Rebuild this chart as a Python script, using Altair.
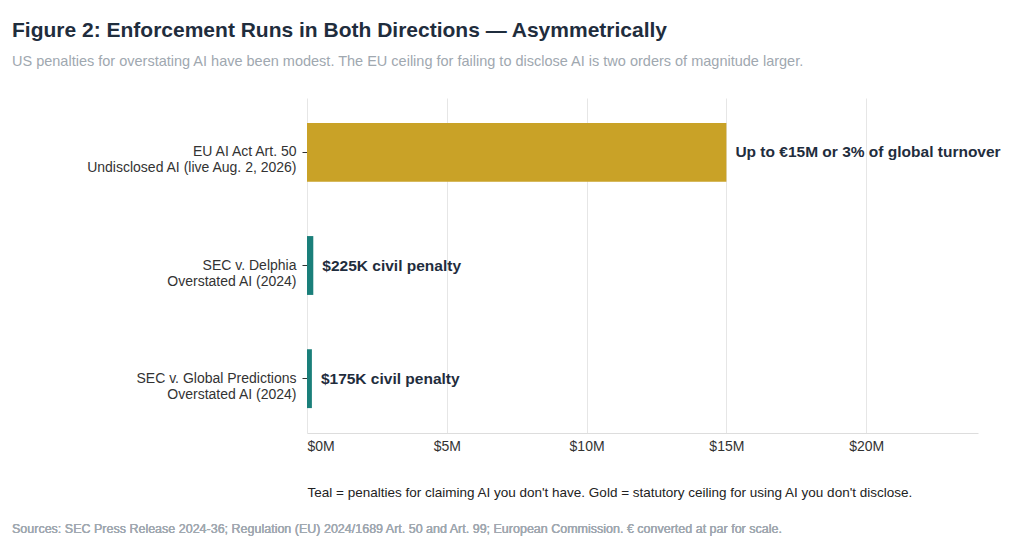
import altair as alt
import pandas as pd

cases = [
    "EU AI Act Art. 50|Undisclosed AI (live Aug. 2, 2026)",
    "SEC v. Delphia|Overstated AI (2024)",
    "SEC v. Global Predictions|Overstated AI (2024)",
]
amounts = [15_000_000, 225_000, 175_000]
kinds = ["gold", "teal", "teal"]
notes = ["Up to €15M or 3% of global turnover", "$225K civil penalty", "$175K civil penalty"]

df = pd.DataFrame({"case": cases, "amount": amounts, "kind": kinds, "note": notes})

W, H = 671, 335
font = "Liberation Sans"

y = alt.Y(
    "case:N", sort=cases, title=None,
    scale=alt.Scale(paddingInner=0.48, paddingOuter=0.22),
    axis=alt.Axis(labelExpr="split(datum.label, '|')", labelFontSize=14, labelColor="#333333",
                  labelFont=font, labelLimit=320, domain=False, tickColor="#333333", tickSize=5, labelPadding=6),
)
x = alt.X(
    "amount:Q", title="Teal = penalties for claiming AI you don't have.  Gold = statutory ceiling for using AI you don't disclose.",
    scale=alt.Scale(domain=[0, 24_000_000], nice=False),
    axis=alt.Axis(values=[0, 5e6, 10e6, 15e6, 20e6], labelExpr="'$' + datum.value / 1000000 + 'M'",
                  labelFontSize=14, labelColor="#333333", labelFont=font, grid=True, gridColor="#e6e6e6",
                  domainColor="#dddddd", ticks=False, labelPadding=6,
                  titleFont=font, titleFontSize=13.5, titleFontWeight="normal", titleColor="#222222",
                  titleAnchor="start", titlePadding=32),
)

bars = alt.Chart(df).mark_bar().encode(
    x=x, y=y,
    color=alt.Color("kind:N", scale=alt.Scale(domain=["gold", "teal"], range=["#c9a227", "#1a7f7a"]), legend=None),
)
labels = alt.Chart(df).mark_text(align="left", dx=9, fontSize=15.5, fontWeight="bold", color="#1f2d3d", font=font).encode(
    x="amount:Q", y=alt.Y("case:N", sort=cases), text="note:N",
)
sources = alt.Chart(df).mark_text(align="left", baseline="middle", fontSize=12.5, color="#a0a8b0", font=font).encode(
    x=alt.value(-295), y=alt.value(H + 96),
    text=alt.value("Sources: SEC Press Release 2024-36; Regulation (EU) 2024/1689 Art. 50 and Art. 99; European Commission. € converted at par for scale."),
)

chart = alt.layer(bars, labels, sources).properties(
    width=W, height=H,
    autosize=alt.AutoSizeParams(type="none"),
    padding={"left": 299, "top": 90, "right": 30, "bottom": 120},
    title=alt.TitleParams(
        "Figure 2: Enforcement Runs in Both Directions — Asymmetrically",
        subtitle="US penalties for overstating AI have been modest. The EU ceiling for failing to disclose AI is two orders of magnitude larger.",
        anchor="start", frame="group", dx=-295, offset=30, font=font, fontSize=21, fontWeight="bold", color="#1f2d3d",
        subtitleFont=font, subtitleFontSize=14.5, subtitleColor="#a0a8b0", subtitlePadding=14,
    ),
).configure_view(stroke=None)

chart.save("out.html", embed_options={"renderer": "svg", "actions": False})
